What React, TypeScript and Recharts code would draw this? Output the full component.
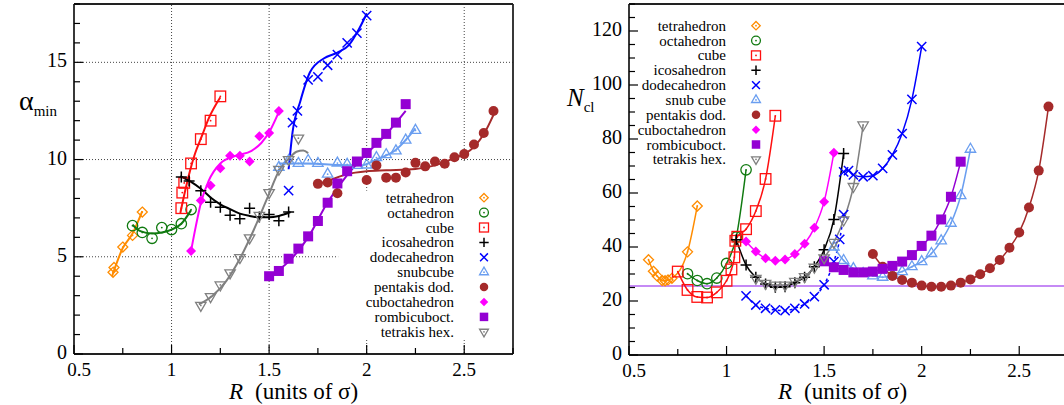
import { ComposedChart, Line, XAxis, YAxis, ReferenceLine } from "recharts";

type Pt = { x: number; y: number };
type Kind = "diamond" | "circle" | "square" | "plus" | "cross" | "tri" | "disc" | "fdiamond" | "fsquare" | "tridown";
const p = (x: number, y: number): Pt => ({ x, y });

const X_TICKS = [0.5, 0.75, 1, 1.25, 1.5, 1.75, 2, 2.25, 2.5, 2.75];
const ALPHA_TICKS = [0, 1, 2, 3, 4, 5, 6, 7, 8, 9, 10, 11, 12, 13, 14, 15, 16, 17, 18];
const NCL_TICKS = [0, 5, 10, 15, 20, 25, 30, 35, 40, 45, 50, 55, 60, 65, 70, 75, 80, 85, 90, 95, 100, 105, 110, 115, 120, 125, 130];
const NCL_REF = 25.6;

const LEGEND_LEFT = ["tetrahedron", "octahedron", "cube", "icosahedron", "dodecahedron", "snubcube", "pentakis dod.", "cuboctahedron", "rombicuboct.", "tetrakis hex."];
const LEGEND_RIGHT = ["tetrahedron", "octahedron", "cube", "icosahedron", "dodecahedron", "snub cube", "pentakis dod.", "cuboctahedron", "rombicuboct.", "tetrakis hex."];

// left panel: alpha_min, measured points + fitted curves
const tetraA = [p(0.7, 4.2), p(0.705, 4.45), p(0.75, 5.5), p(0.8, 6.1), p(0.85, 7.3)];
const tetraAFit = [p(0.695, 4.0), p(0.75, 5.45), p(0.8, 6.2), p(0.85, 7.35)];
const octaA = [p(0.8, 6.6), p(0.85, 6.25), p(0.9, 5.95), p(0.95, 6.5), p(1.0, 6.4), p(1.05, 6.7), p(1.1, 7.43)];
const octaAFit = [p(0.8, 6.65), p(0.84, 6.32), p(0.9, 6.2), p(0.95, 6.25), p(1.0, 6.4), p(1.05, 6.7), p(1.1, 7.4)];
const cubeA = [p(1.05, 7.5), p(1.055, 8.3), p(1.065, 8.8), p(1.1, 9.8), p(1.15, 11.05), p(1.2, 12.0), p(1.25, 13.25)];
const cubeAFit = [p(1.045, 7.25), p(1.07, 8.41), p(1.095, 9.44), p(1.12, 10.3), p(1.155, 11.2), p(1.19, 12.1), p(1.25, 13.2)];
const icosaA = [p(1.05, 9.1), p(1.09, 8.9), p(1.15, 8.4), p(1.2, 7.8), p(1.25, 7.55), p(1.3, 7.13), p(1.35, 6.95), p(1.4, 7.5), p(1.45, 7.05), p(1.5, 7.17), p(1.55, 6.85), p(1.6, 7.3)];
const icosaAFit = [p(1.045, 9.15), p(1.1, 8.85), p(1.15, 8.5), p(1.2, 8.05), p(1.25, 7.7), p(1.3, 7.45), p(1.35, 7.22), p(1.4, 7.1), p(1.45, 7.03), p(1.5, 7.03), p(1.55, 7.1), p(1.61, 7.3)];
const dodecaA = [p(1.6, 8.4), p(1.62, 11.9), p(1.645, 12.5), p(1.7, 14.1), p(1.75, 14.25), p(1.8, 14.85), p(1.85, 15.4), p(1.9, 16.0), p(1.95, 16.5), p(2.0, 17.4)];
const dodecaAFit = [p(1.6, 9.5), p(1.62, 11.4), p(1.66, 13.0), p(1.71, 14.5), p(1.78, 15.2), p(1.85, 15.5), p(1.91, 15.9), p(1.96, 16.7), p(2.0, 17.5)];
const snubA = [p(1.55, 9.6), p(1.6, 9.95), p(1.65, 9.8), p(1.7, 9.95), p(1.75, 9.8), p(1.8, 9.25), p(1.85, 9.82), p(1.9, 9.75), p(1.95, 9.7), p(2.0, 9.72), p(2.05, 10.1), p(2.1, 10.25), p(2.15, 10.45), p(2.2, 11.0), p(2.25, 11.5)];
const snubAFit = [p(1.55, 9.8), p(1.7, 9.8), p(1.85, 9.72), p(1.97, 9.7), p(2.05, 10.0), p(2.15, 10.5), p(2.25, 11.6)];
const pentaA = [p(1.75, 8.75), p(1.8, 8.82), p(1.85, 8.27), p(2.0, 8.95), p(2.05, 9.7), p(2.1, 9.07), p(2.15, 9.07), p(2.2, 9.33), p(2.25, 9.83), p(2.3, 9.65), p(2.35, 9.9), p(2.4, 9.78), p(2.45, 10.12), p(2.5, 10.28), p(2.55, 10.77), p(2.6, 11.37), p(2.65, 12.5)];
const pentaAFit = [p(1.75, 8.75), p(1.8, 8.9), p(1.9, 9.25), p(2.0, 9.4), p(2.1, 9.45), p(2.25, 9.52), p(2.35, 9.7), p(2.43, 10.0), p(2.55, 10.65), p(2.6, 11.3), p(2.65, 12.3)];
const cuboA = [p(1.1, 5.3), p(1.15, 7.9), p(1.2, 8.67), p(1.25, 9.55), p(1.3, 10.2), p(1.35, 10.2), p(1.4, 9.9), p(1.45, 11.2), p(1.5, 11.37), p(1.55, 12.5)];
const cuboAFit = [p(1.1, 5.3), p(1.125, 6.6), p(1.15, 7.75), p(1.19, 8.9), p(1.25, 9.8), p(1.33, 10.2), p(1.41, 10.45), p(1.46, 10.85), p(1.5, 11.4), p(1.55, 12.45)];
const rombiA = [p(1.5, 4.0), p(1.55, 4.27), p(1.6, 4.9), p(1.65, 5.42), p(1.7, 6.05), p(1.75, 6.84), p(1.8, 7.78), p(1.85, 8.77), p(1.9, 9.4), p(1.95, 9.9), p(2.0, 10.34), p(2.05, 10.86), p(2.1, 11.32), p(2.15, 11.9), p(2.2, 12.85)];
const rombiAFit = [p(1.5, 4.0), p(1.6, 4.75), p(1.7, 6.0), p(1.8, 7.8), p(1.9, 9.2), p(2.0, 10.3), p(2.1, 11.3), p(2.2, 12.5)];
const tetrakisA = [p(1.15, 2.5), p(1.2, 2.95), p(1.25, 3.55), p(1.3, 4.17), p(1.35, 4.96), p(1.4, 5.97), p(1.45, 7.13), p(1.5, 8.3), p(1.55, 9.5), p(1.6, 10.0), p(1.65, 11.1)];
const tetrakisAFit = [p(1.14, 2.55), p(1.21, 3.0), p(1.28, 3.75), p(1.35, 4.9), p(1.42, 6.35), p(1.49, 8.0), p(1.555, 9.5), p(1.61, 10.15), p(1.64, 10.4), p(1.675, 10.47), p(1.7, 10.33)];

// right panel: N_cl
const tetraN = [p(0.6, 35.3), p(0.625, 31), p(0.645, 29.2), p(0.67, 27.6), p(0.685, 27.5), p(0.7, 27.8), p(0.72, 28.4), p(0.8, 38.2), p(0.85, 55.2)];
const octaN = [p(0.8, 30.1), p(0.85, 27.6), p(0.9, 26.4), p(0.95, 28.5), p(1.0, 33.9), p(1.05, 43.7), p(1.1, 68.6)];
const cubeN = [p(0.75, 30.9), p(0.8, 24.1), p(0.85, 21.5), p(0.9, 21.3), p(0.95, 23.2), p(1.0, 27.5), p(1.025, 31.7), p(1.04, 36.2), p(1.045, 42.3), p(1.055, 43.8), p(1.1, 46.6), p(1.15, 53.3), p(1.2, 65.2), p(1.25, 88.6)];
const icosaN = [p(1.05, 42.7), p(1.1, 33.3), p(1.15, 28.8), p(1.2, 26.3), p(1.25, 25.1), p(1.3, 25.3), p(1.35, 26.8), p(1.4, 28.8), p(1.45, 32.7), p(1.5, 39), p(1.55, 50.2), p(1.6, 74.6)];
const dodecaNLow = [p(1.1, 21.9), p(1.15, 18.5), p(1.2, 17.3), p(1.25, 16.7), p(1.3, 16.4), p(1.35, 17.3), p(1.4, 18.9), p(1.45, 21.6), p(1.5, 26), p(1.55, 34.6), p(1.58, 42.8), p(1.6, 52)];
const dodecaNHigh = [p(1.6, 67.8), p(1.625, 68.3), p(1.65, 66.7), p(1.7, 66), p(1.75, 66.4), p(1.8, 69.1), p(1.85, 74.1), p(1.9, 82), p(1.95, 94.7), p(2.0, 114.2)];
const snubN = [p(1.55, 40), p(1.6, 35), p(1.65, 32), p(1.7, 30.2), p(1.75, 29.3), p(1.8, 28.8), p(1.85, 29.8), p(1.9, 30.9), p(1.95, 32.7), p(2.0, 34.6), p(2.05, 37.6), p(2.1, 42.3), p(2.15, 48.8), p(2.2, 59), p(2.25, 76.2)];
const pentaN = [p(1.75, 37.4), p(1.8, 32.7), p(1.85, 29.3), p(1.9, 27.8), p(1.95, 26.8), p(2.0, 25.7), p(2.05, 25.3), p(2.1, 25.3), p(2.15, 25.7), p(2.2, 26.8), p(2.25, 28), p(2.3, 29.9), p(2.35, 32.1), p(2.4, 35.2), p(2.45, 39.7), p(2.5, 45.4), p(2.55, 54.6), p(2.6, 68.3), p(2.65, 92)];
const cuboN = [p(1.1, 42), p(1.15, 38.3), p(1.2, 35.8), p(1.25, 34.9), p(1.3, 35.4), p(1.35, 37.4), p(1.4, 41.2), p(1.45, 47.1), p(1.5, 56.8), p(1.55, 74.9)];
const rombiN = [p(1.5, 34.7), p(1.55, 32.5), p(1.6, 31.5), p(1.65, 30.6), p(1.7, 30.6), p(1.75, 30.9), p(1.8, 31.9), p(1.85, 33), p(1.9, 34.6), p(1.95, 37), p(2.0, 40.4), p(2.05, 44.2), p(2.1, 50.2), p(2.15, 58.6), p(2.2, 71.6)];
const tetrakisN = [p(1.15, 28.4), p(1.2, 26.5), p(1.25, 25.9), p(1.3, 25.9), p(1.35, 27.3), p(1.4, 29), p(1.45, 32.5), p(1.5, 36), p(1.55, 41.7), p(1.6, 50), p(1.65, 62.4), p(1.7, 85.2)];

const STYLES: { color: string; kind: Kind }[] = [
  { color: "#ff8c00", kind: "diamond" },
  { color: "#107a10", kind: "circle" },
  { color: "#ff1010", kind: "square" },
  { color: "#000000", kind: "plus" },
  { color: "#0000ff", kind: "cross" },
  { color: "#6a9ef0", kind: "tri" },
  { color: "#a52a2a", kind: "disc" },
  { color: "#ff00ff", kind: "fdiamond" },
  { color: "#9400d3", kind: "fsquare" },
  { color: "#808080", kind: "tridown" },
];

const LEFT_SERIES = [
  [tetraA, tetraAFit], [octaA, octaAFit], [cubeA, cubeAFit], [icosaA, icosaAFit], [dodecaA, dodecaAFit],
  [snubA, snubAFit], [pentaA, pentaAFit], [cuboA, cuboAFit], [rombiA, rombiAFit], [tetrakisA, tetrakisAFit],
];
const RIGHT_SERIES: { pts: Pt[]; s: number; dash?: boolean }[] = [
  { pts: tetraN, s: 0 }, { pts: octaN, s: 1 }, { pts: cubeN, s: 2 }, { pts: icosaN, s: 3 },
  { pts: dodecaNLow, s: 4, dash: true }, { pts: dodecaNHigh, s: 4 }, { pts: snubN, s: 5 }, { pts: pentaN, s: 6 },
  { pts: cuboN, s: 7 }, { pts: rombiN, s: 8 }, { pts: tetrakisN, s: 9 },
];

const FONT = "'Liberation Serif', 'Times New Roman', serif";

function Marker({ kind, cx, cy, color, s = 1 }: { kind: Kind; cx: number; cy: number; color: string; s?: number }) {
  const w = 1.3;
  const dot = <circle cx={cx} cy={cy} r={0.9} fill={color} />;
  switch (kind) {
    case "diamond": {
      const r = 5 * s;
      return <g><polygon points={`${cx},${cy - r} ${cx + r},${cy} ${cx},${cy + r} ${cx - r},${cy}`} fill="none" stroke={color} strokeWidth={w} />{dot}</g>;
    }
    case "circle":
      return <g><circle cx={cx} cy={cy} r={5.2 * s} fill="none" stroke={color} strokeWidth={w} />{dot}</g>;
    case "square": {
      const r = 5.3 * s;
      return <g><rect x={cx - r} y={cy - r} width={2 * r} height={2 * r} fill="none" stroke={color} strokeWidth={w} />{dot}</g>;
    }
    case "plus": {
      const r = 5.5 * s;
      return <path d={`M${cx - r},${cy}H${cx + r}M${cx},${cy - r}V${cy + r}`} stroke={color} strokeWidth={1.5} />;
    }
    case "cross": {
      const r = 4.6 * s;
      return <path d={`M${cx - r},${cy - r}L${cx + r},${cy + r}M${cx - r},${cy + r}L${cx + r},${cy - r}`} stroke={color} strokeWidth={1.5} />;
    }
    case "tri":
    case "tridown": {
      const r = 6 * s;
      const d = kind === "tri" ? 1 : -1;
      return <g><polygon points={`${cx},${cy - d * r} ${cx + 0.87 * r},${cy + d * 0.5 * r} ${cx - 0.87 * r},${cy + d * 0.5 * r}`} fill="none" stroke={color} strokeWidth={w} />{dot}</g>;
    }
    case "disc":
      return <circle cx={cx} cy={cy} r={5 * s} fill={color} />;
    case "fdiamond": {
      const r = 5 * s;
      return <polygon points={`${cx},${cy - r} ${cx + r},${cy} ${cx},${cy + r} ${cx - r},${cy}`} fill={color} />;
    }
    case "fsquare": {
      const r = 5 * s;
      return <rect x={cx - r} y={cy - r} width={2 * r} height={2 * r} fill={color} />;
    }
  }
  return null;
}

const dotFn = (kind: Kind, color: string) => (props: any) => {
  if (props.cx == null || props.cy == null) return <g key={props.index} />;
  return <Marker key={props.index} kind={kind} cx={props.cx} cy={props.cy} color={color} />;
};

function XTick(props: any) {
  const { x, y, payload } = props;
  const v = payload.value;
  const major = Math.abs(v * 2 - Math.round(v * 2)) < 1e-6;
  // the first label sits a little right of its tick, clear of the y-axis "0"
  const shift = v === 0.5 ? 5 : 0;
  return (
    <g>
      <line x1={x} x2={x} y1={y} y2={y - (major ? 9 : 6)} stroke="#000" strokeWidth={1.2} />
      {major && (
        <text x={x + shift} y={y + 22} textAnchor="middle" fontSize={19} fontFamily={FONT} fill="#000">{String(v)}</text>
      )}
    </g>
  );
}

function YTick(props: any) {
  const { x, y, payload, step } = props;
  const v = payload.value;
  const major = v % step === 0;
  return (
    <g>
      <line x1={x} x2={x + (major ? 9 : 6)} y1={y} y2={y} stroke="#000" strokeWidth={1.2} />
      {major && (
        <text x={x - 7} y={y + 5} textAnchor="end" fontSize={20} fontFamily={FONT} fill="#000">{String(v)}</text>
      )}
    </g>
  );
}

const GRID = { stroke: "#444", strokeDasharray: "1 2", strokeWidth: 1 };
const FRAME = { stroke: "#222", strokeWidth: 1.8 };

function LeftPanel() {
  return (
    <ComposedChart width={530} height={405} margin={{ top: 4, right: 17, bottom: 21, left: 14 }}>
      <XAxis type="number" dataKey="x" domain={[0.5, 2.75]} ticks={X_TICKS} interval={0} allowDataOverflow height={30} tickSize={0} tickMargin={0} tickLine={false} axisLine={FRAME} tick={<XTick />} />
      <YAxis type="number" domain={[0, 18]} ticks={ALPHA_TICKS} interval={0} allowDataOverflow width={60} tickSize={0} tickMargin={0} tickLine={false} axisLine={FRAME} tick={<YTick step={5} />} />
      <ReferenceLine x={1} {...GRID} />
      <ReferenceLine x={1.5} {...GRID} />
      <ReferenceLine segment={[{ x: 2, y: 18 }, { x: 2, y: 8.4 }]} {...GRID} />
      <ReferenceLine segment={[{ x: 2, y: 0.72 }, { x: 2, y: 0 }]} {...GRID} />
      <ReferenceLine segment={[{ x: 2.5, y: 18 }, { x: 2.5, y: 9.9 }]} {...GRID} />
      <ReferenceLine segment={[{ x: 2.5, y: 0.72 }, { x: 2.5, y: 0 }]} {...GRID} />
      <ReferenceLine y={15} {...GRID} />
      <ReferenceLine y={10} {...GRID} />
      <ReferenceLine segment={[{ x: 0.5, y: 5 }, { x: 1.854, y: 5 }]} {...GRID} />
      <ReferenceLine y={18} {...FRAME} />
      <ReferenceLine x={2.75} {...FRAME} />
      {LEFT_SERIES.map(([pts, fit], i) => (
        <Line key={"f" + i} data={fit} dataKey="y" type="monotone" stroke={STYLES[i].color} strokeWidth={2} dot={false} activeDot={false} isAnimationActive={false} />
      ))}
      {LEFT_SERIES.map(([pts], i) => (
        <Line key={"m" + i} data={pts} dataKey="y" stroke="none" dot={dotFn(STYLES[i].kind, STYLES[i].color)} activeDot={false} isAnimationActive={false} />
      ))}
    </ComposedChart>
  );
}

function RightPanel() {
  return (
    <ComposedChart width={530} height={405} margin={{ top: 4, right: 17, bottom: 20, left: 14 }}>
      <XAxis type="number" dataKey="x" domain={[0.5, 2.75]} ticks={X_TICKS} interval={0} allowDataOverflow height={30} tickSize={0} tickMargin={0} tickLine={false} axisLine={FRAME} tick={<XTick />} />
      <YAxis type="number" domain={[0, 130]} ticks={NCL_TICKS} interval={0} allowDataOverflow width={60} tickSize={0} tickMargin={0} tickLine={false} axisLine={FRAME} tick={<YTick step={20} />} />
      <ReferenceLine y={130} {...FRAME} />
      <ReferenceLine y={NCL_REF} stroke="#c58af5" strokeWidth={2} />
      {RIGHT_SERIES.map((r, i) => (
        <Line key={i} data={r.pts} dataKey="y" type="monotone" stroke={STYLES[r.s].color} strokeWidth={1.5} strokeDasharray={r.dash ? "3 3" : undefined} dot={dotFn(STYLES[r.s].kind, STYLES[r.s].color)} activeDot={false} isAnimationActive={false} />
      ))}
    </ComposedChart>
  );
}

function Legend({ names, textX, markX, y0, dy }: { names: string[]; textX: number; markX: number; y0: number; dy: number }) {
  return (
    <g>
      {names.map((n, i) => (
        <g key={n}>
          <text x={textX} y={y0 + i * dy + 5} textAnchor="end" fontSize={15} fontFamily={FONT} fill="#000">{n}</text>
          <Marker kind={STYLES[i].kind} cx={markX} cy={y0 + i * dy} color={STYLES[i].color} s={0.85} />
        </g>
      ))}
    </g>
  );
}

export default function App() {
  return (
    <div style={{ position: "absolute", left: 0, top: 0, width: 1064, height: 405, overflow: "hidden", background: "#fff" }}>
      <div style={{ position: "absolute", left: 0, top: 0 }}>
        <LeftPanel />
      </div>
      <div style={{ position: "absolute", left: 555, top: 0 }}>
        <RightPanel />
      </div>
      <svg width={1064} height={405} style={{ position: "absolute", left: 0, top: 0, pointerEvents: "none" }}>
        <Legend names={LEGEND_LEFT} textX={454} markX={484} y0={197.7} dy={14.9} />
        <Legend names={LEGEND_RIGHT} textX={726} markX={756} y0={25.7} dy={14.85} />
        <text x={229} y={399} fontSize={23} fontFamily={FONT} fill="#000">
          <tspan fontStyle="italic">R</tspan>
          <tspan dx={12}>(units of σ)</tspan>
        </text>
        <text x={778} y={399} fontSize={23} fontFamily={FONT} fill="#000">
          <tspan fontStyle="italic">R</tspan>
          <tspan dx={12}>(units of σ)</tspan>
        </text>
        <text x={19} y={110} fontSize={28} fontFamily={FONT} fill="#000">
          α<tspan fontSize={15} dy={6}>min</tspan>
        </text>
        <text x={567} y={106} fontSize={25} fontFamily={FONT} fill="#000">
          <tspan fontStyle="italic">N</tspan>
          <tspan fontSize={15} dy={6}>cl</tspan>
        </text>
      </svg>
    </div>
  );
}
